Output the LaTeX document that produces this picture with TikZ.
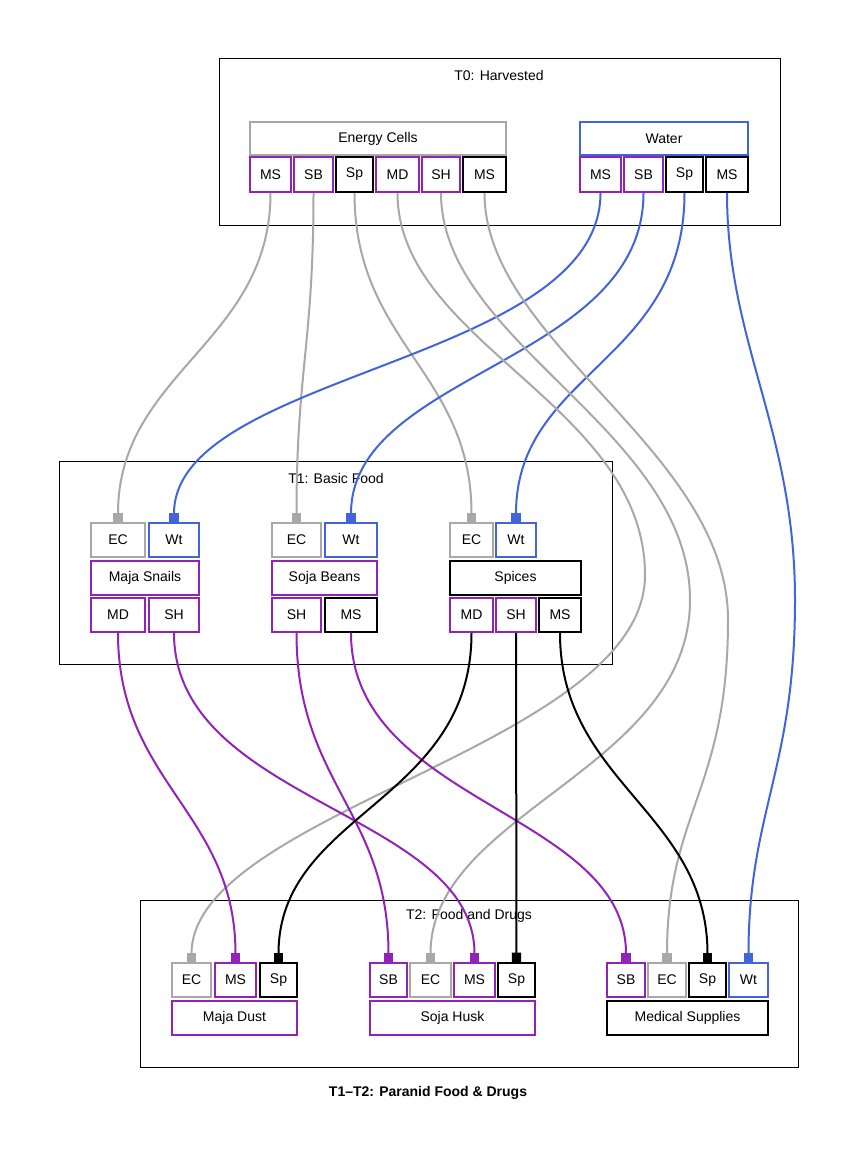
\documentclass[tikz,border=0pt]{standalone}
\usepackage{fontspec}
\setmainfont{Liberation Sans}
\usetikzlibrary{arrows.meta}
\definecolor{cg}{HTML}{A8A8A8}
\definecolor{cp}{HTML}{9322B8}
\definecolor{cb}{HTML}{4164DC}
\tikzset{
 box/.style={draw,line width=1.5pt,inner sep=0pt,font=\fontsize{10.5}{12}\selectfont},
 clu/.style={draw,line width=0.75pt},
 ttl/.style={font=\fontsize{10.5}{12}\selectfont},
 e/.style={line width=1.5pt,-{Square[length=7pt,width=7pt]}}
}
\newcommand\bx[7]{\node[box,draw=#6,minimum width={(#3-#2)*0.75pt},minimum height={(#5-#4)*0.75pt}] (#1) at ({(#2+#3)/2},{(#4+#5)/2}) {#7};}
\begin{document}
\begin{tikzpicture}[x=0.75pt,y=-0.75pt]
\useasboundingbox (0,0) rectangle (857,1157);
% clusters
\draw[clu] (219,58) rectangle (780,225);
\node[ttl] (t0t) at (499,75) {T0: Harvested};
\draw[clu] (59,461) rectangle (612,664);
\node[ttl] (t1t) at (336,478) {T1: Basic Food};
\draw[clu] (140,900) rectangle (798,1067);
\node[ttl] (t2t) at (469,916) {T2: Food and Drugs};
% T0
\bx{t0ec}{250}{506}{122}{155}{cg}{Energy Cells}
\bx{t0ec1}{250}{291}{157}{192}{cp}{MS}
\bx{t0ec2}{294}{333}{157}{192}{cp}{SB}
\bx{t0ec3}{336}{373}{157}{192}{black}{Sp}
\bx{t0ec4}{376}{419}{157}{192}{cp}{MD}
\bx{t0ec5}{422}{460}{157}{192}{cp}{SH}
\bx{t0ec6}{463}{506}{157}{192}{black}{MS}
\bx{t0w}{580}{748}{122}{155}{cb}{Water}
\bx{t0w1}{580}{621}{157}{192}{cp}{MS}
\bx{t0w2}{624}{663}{157}{192}{cp}{SB}
\bx{t0w3}{666}{703}{157}{192}{black}{Sp}
\bx{t0w4}{706}{748}{157}{192}{black}{MS}
% T1
\bx{msec}{91}{145}{523}{557}{cg}{EC}
\bx{mswt}{149}{199}{523}{557}{cb}{Wt}
\bx{msh}{91}{199}{561}{595}{cp}{Maja Snails}
\bx{msmd}{91}{145}{598}{632}{cp}{MD}
\bx{mssh}{149}{199}{598}{632}{cp}{SH}
\bx{sbec}{272}{321}{523}{557}{cg}{EC}
\bx{sbwt}{325}{377}{523}{557}{cb}{Wt}
\bx{sbh}{272}{377}{561}{595}{cp}{Soja Beans}
\bx{sbsh}{272}{321}{598}{632}{cp}{SH}
\bx{sbms}{325}{377}{598}{632}{black}{MS}
\bx{spec}{450}{493}{523}{557}{cg}{EC}
\bx{spwt}{496}{536}{523}{557}{cb}{Wt}
\bx{sph}{450}{581}{561}{595}{black}{Spices}
\bx{spmd}{450}{493}{598}{632}{cp}{MD}
\bx{spsh}{496}{536}{598}{632}{cp}{SH}
\bx{spms}{539}{581}{598}{632}{black}{MS}
% T2
\bx{mdec}{172}{211}{963}{997}{cg}{EC}
\bx{mdms}{215}{256}{963}{997}{cp}{MS}
\bx{mdsp}{260}{297}{963}{997}{black}{Sp}
\bx{mdh}{172}{297}{1001}{1035}{cp}{Maja Dust}
\bx{shsb}{370}{407}{963}{997}{cp}{SB}
\bx{shec}{410}{451}{963}{997}{cg}{EC}
\bx{shms}{454}{495}{963}{997}{cp}{MS}
\bx{shsp}{498}{535}{963}{997}{black}{Sp}
\bx{shh}{370}{535}{1001}{1035}{cp}{Soja Husk}
\bx{mesb}{607}{645}{963}{997}{cp}{SB}
\bx{meec}{648}{686}{963}{997}{cg}{EC}
\bx{mesp}{689}{726}{963}{997}{black}{Sp}
\bx{mewt}{729}{768}{963}{997}{cb}{Wt}
\bx{meh}{607}{768}{1001}{1035}{black}{Medical Supplies}
\node[font=\bfseries\fontsize{10.5}{12}\selectfont] (cap) at (428,1093) {T1–T2: Paranid Food \& Drugs};
% waypoints
\coordinate (w1) at (645,575);
\coordinate (w2) at (690,600);
\coordinate (w3) at (728,620);
\coordinate (w4) at (795,600);
% edges T0->T1
\draw[e,cg] (t0ec1.south) .. controls +(0,150) and +(0,-150) .. (msec.north);
\draw[e,cg] (t0ec2.south) .. controls +(0,150) and +(0,-150) .. (sbec.north);
\draw[e,cg] (t0ec3.south) .. controls +(0,150) and +(0,-150) .. (spec.north);
\draw[e,cb] (t0w1.south) .. controls +(0,170) and +(0,-150) .. (mswt.north);
\draw[e,cb] (t0w2.south) .. controls +(0,170) and +(0,-150) .. (sbwt.north);
\draw[e,cb] (t0w3.south) .. controls +(0,170) and +(0,-150) .. (spwt.north);
% long edges T0->T2
\draw[e,cg] (t0ec4.south) .. controls +(0,150) and +(0,-170) .. (w1) .. controls +(0,170) and +(0,-150) .. (mdec.north);
\draw[e,cg] (t0ec5.south) .. controls +(0,150) and +(0,-170) .. (w2) .. controls +(0,170) and +(0,-150) .. (shec.north);
\draw[e,cg] (t0ec6.south) .. controls +(0,150) and +(0,-170) .. (w3) .. controls +(0,170) and +(0,-150) .. (meec.north);
\draw[e,cb] (t0w4.south) .. controls +(0,150) and +(0,-170) .. (w4) .. controls +(0,170) and +(0,-150) .. (mewt.north);
% T1->T2
\draw[e,cp] (msmd.south) .. controls +(0,150) and +(0,-150) .. (mdms.north);
\draw[e,cp] (mssh.south) .. controls +(0,170) and +(0,-150) .. (shms.north);
\draw[e,cp] (sbsh.south) .. controls +(0,150) and +(0,-150) .. (shsb.north);
\draw[e,cp] (sbms.south) .. controls +(0,170) and +(0,-150) .. (mesb.north);
\draw[e,black] (spmd.south) .. controls +(0,170) and +(0,-150) .. (mdsp.north);
\draw[e,black] (spsh.south) -- (shsp.north);
\draw[e,black] (spms.south) .. controls +(0,150) and +(0,-150) .. (mesp.north);
\end{tikzpicture}
\end{document}
